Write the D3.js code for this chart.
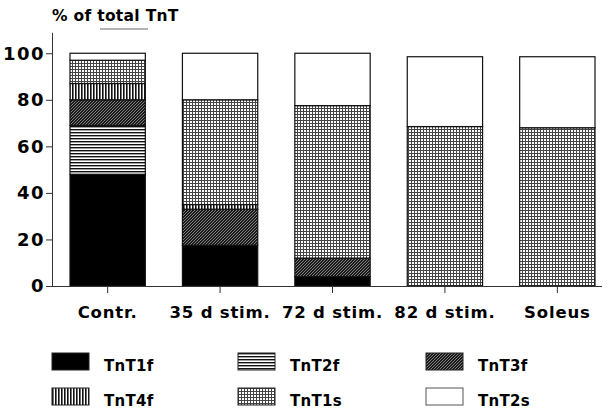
<!DOCTYPE html>
<html>
<head>
<meta charset="utf-8">
<script src="https://cdn.jsdelivr.net/npm/d3@7"></script>
<style>
  html, body { margin: 0; padding: 0; background: #fff; }
  svg { display: block; }
  text { font-family: "DejaVu Sans", "Liberation Sans", sans-serif; font-weight: bold; fill: #000; }
</style>
</head>
<body>
<svg id="chart" width="608" height="415"></svg>
<script>
// Troponin T isoform composition (% of total TnT) per muscle condition
const categories = ["Contr.", "35 d stim.", "72 d stim.", "82 d stim.", "Soleus"];
const isoforms = ["TnT1f", "TnT2f", "TnT3f", "TnT4f", "TnT1s", "TnT2s"];
const TnT1f = [48, 17.5, 4, 0, 0];
const TnT2f = [21, 0, 0, 0, 0];
const TnT3f = [11, 15.5, 8, 0, 0];
const TnT4f = [7, 2, 0, 0, 0];
const TnT1s = [10, 45, 65.5, 68.5, 68];
const TnT2s = [3, 20, 22.5, 30, 30.5];
const yTicks = [0, 20, 40, 60, 80, 100];
const yTitle = "% of total TnT";

const seriesValues = { TnT1f, TnT2f, TnT3f, TnT4f, TnT1s, TnT2s };

const svg = d3.select("#chart");

// hatch / texture fills, one per isoform
const defs = svg.append("defs");
function pattern(id, w, h) {
  return defs.append("pattern").attr("id", id)
    .attr("patternUnits", "userSpaceOnUse").attr("width", w).attr("height", h);
}
// horizontal rules
const pH = pattern("p-2f", 4, 3);
pH.append("rect").attr("width", 4).attr("height", 3).attr("fill", "#fff");
pH.append("rect").attr("width", 4).attr("height", 1.4).attr("fill", "#111");
// dense diagonal hatch
const pD = pattern("p-3f", 3, 3);
pD.append("rect").attr("width", 3).attr("height", 3).attr("fill", "#1a1a1a");
pD.append("path").attr("d", "M0,3 L3,0 M-1,1 L1,-1 M2,4 L4,2")
  .attr("stroke", "#9a9a9a").attr("stroke-width", 0.8);
// vertical rules
const pV = pattern("p-4f", 3, 4);
pV.append("rect").attr("width", 3).attr("height", 4).attr("fill", "#fff");
pV.append("rect").attr("width", 1.6).attr("height", 4).attr("fill", "#111");
// fine grid
const pG = pattern("p-1s", 3, 3);
pG.append("rect").attr("width", 3).attr("height", 3).attr("fill", "#fff");
pG.append("rect").attr("width", 3).attr("height", 1).attr("fill", "#444");
pG.append("rect").attr("width", 1).attr("height", 3).attr("fill", "#444");

const fills = {
  TnT1f: "#000",
  TnT2f: "url(#p-2f)",
  TnT3f: "url(#p-3f)",
  TnT4f: "url(#p-4f)",
  TnT1s: "url(#p-1s)",
  TnT2s: "#fff"
};

const x = d3.scaleBand().domain(categories).range([70, 595])
  .paddingInner(0.33).paddingOuter(0);
const y = d3.scaleLinear().domain([0, 109]).range([286, 32.3]);

// stacked segments
const rows = categories.map((c, i) => {
  const r = { category: c };
  isoforms.forEach(k => { r[k] = seriesValues[k][i]; });
  return r;
});
const stack = d3.stack().keys(isoforms)(rows);

svg.append("g").selectAll("g").data(stack).join("g")
  .attr("fill", d => fills[d.key])
  .selectAll("rect")
  .data(d => d.filter(s => s[1] - s[0] > 0))
  .join("rect")
  .attr("x", d => x(d.data.category))
  .attr("width", x.bandwidth())
  .attr("y", d => y(d[1]))
  .attr("height", d => y(d[0]) - y(d[1]))
  .attr("stroke", "#111")
  .attr("stroke-width", 1.2);

// y axis
const yAxis = svg.append("g").attr("transform", "translate(52,0)")
  .call(d3.axisLeft(y).tickValues(yTicks).tickSize(6).tickPadding(1).tickSizeOuter(0));
yAxis.select(".domain").attr("stroke", "#333");
yAxis.selectAll(".tick line").attr("stroke", "#333");
yAxis.selectAll(".tick text").attr("font-size", 18).attr("letter-spacing", 1.5)
  .style("font-family", "'DejaVu Sans', sans-serif").style("font-weight", "bold");

// x axis
const xAxis = svg.append("g").attr("transform", "translate(0,286)")
  .call(d3.axisBottom(x).tickSize(7).tickPadding(13).tickSizeOuter(0));
xAxis.select(".domain").attr("d", "M52,0.5H602").attr("stroke", "#333");
xAxis.selectAll(".tick line").attr("stroke", "#333");
xAxis.selectAll(".tick text").attr("font-size", 16.5).attr("letter-spacing", 0.8)
  .style("font-family", "'DejaVu Sans', sans-serif").style("font-weight", "bold");

// axis title
svg.append("text").attr("x", 52).attr("y", 21)
  .attr("font-size", 15.5).attr("letter-spacing", 0.3).text(yTitle);
svg.append("line").attr("x1", 100).attr("x2", 148).attr("y1", 29).attr("y2", 29)
  .attr("stroke", "#666").attr("stroke-width", 1.2);

// legend
const legendCols = [52, 238, 426];
const legendRows = [353, 388];
const legend = svg.append("g").selectAll("g").data(isoforms).join("g")
  .attr("transform", (d, i) => `translate(${legendCols[i % 3]},${legendRows[Math.floor(i / 3)]})`);
legend.append("rect").attr("width", 37).attr("height", 17)
  .attr("fill", d => fills[d]).attr("stroke", d => d === "TnT2s" ? "#555" : "#222")
  .attr("stroke-width", 1);
legend.append("text").attr("x", 52).attr("y", 17.5)
  .attr("font-size", 15).attr("letter-spacing", 0.3).text(d => d);
</script>
</body>
</html>
